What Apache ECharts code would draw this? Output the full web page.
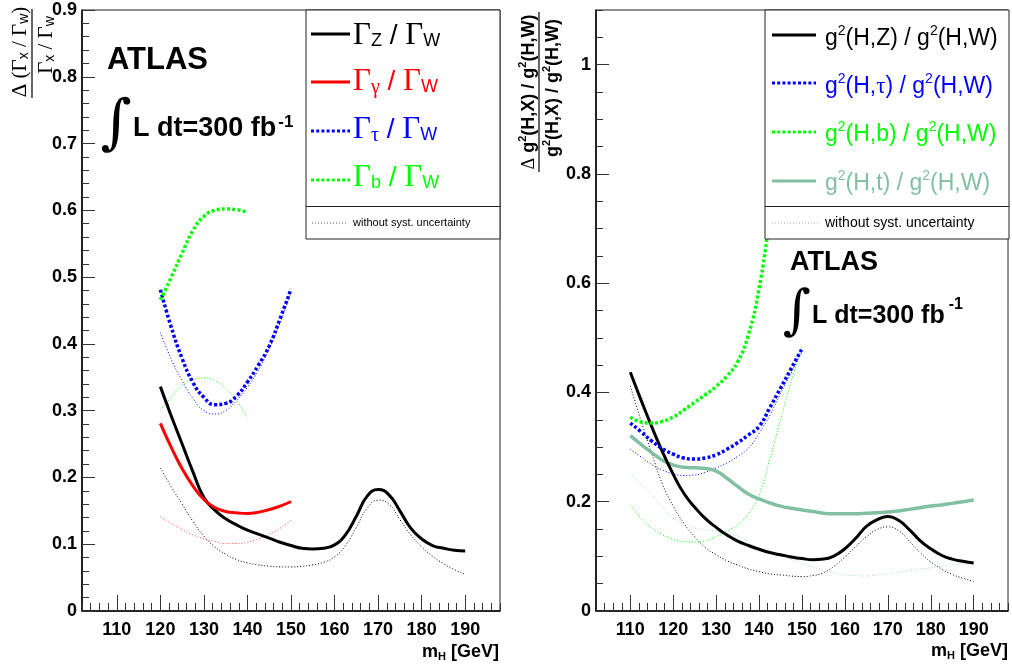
<!DOCTYPE html>
<html>
<head>
<meta charset="utf-8">
<script src="https://cdn.jsdelivr.net/npm/echarts@6/dist/echarts.min.js"></script>
<style>
html,body{margin:0;padding:0;background:#fff}
#main{width:1012px;height:668px}
</style>
</head>
<body>
<div id="main"></div>
<script>
// m_H grids (GeV)
var mh120to190 = [120,122.5,125,127.5,130,132.5,135,137.5,140,142.5,145,147.5,150,152.5,155,157.5,160,162.5,165,167.5,170,172.5,175,177.5,180,182.5,185,187.5,190];
var mh120to150 = [120,122.5,125,127.5,130,132.5,135,137.5,140,142.5,145,147.5,150];
var mh120to140 = [120,122.5,125,127.5,130,132.5,135,137.5,140];
var mh110to190 = [110,112.5,115,117.5,120,122.5,125,127.5,130,132.5,135,137.5,140,142.5,145,147.5,150,152.5,155,157.5,160,162.5,165,167.5,170,172.5,175,177.5,180,182.5,185,187.5,190];
var mh110to150 = [110,112.5,115,117.5,120,122.5,125,127.5,130,132.5,135,137.5,140,142.5,145,147.5,150];
var mh110to145 = [110,112.5,115,117.5,120,122.5,125,127.5,130,132.5,135,137.5,140,142.5,145];

// left pad : relative error on width ratios
var gamZ = [0.336,0.292,0.250,0.208,0.170,0.151,0.138,0.129,0.121,0.115,0.109,0.103,0.098,0.094,0.093,0.094,0.099,0.114,0.142,0.172,0.182,0.174,0.150,0.124,0.108,0.098,0.094,0.091,0.090];
var gamZNoSyst = [0.214,0.186,0.160,0.134,0.112,0.096,0.085,0.077,0.072,0.069,0.067,0.066,0.066,0.067,0.069,0.073,0.081,0.098,0.125,0.154,0.166,0.160,0.137,0.114,0.096,0.082,0.071,0.062,0.055];
var gamGam = [0.281,0.245,0.213,0.187,0.167,0.155,0.149,0.147,0.146,0.148,0.152,0.157,0.164];
var gamGamNoSyst = [0.141,0.131,0.122,0.114,0.108,0.104,0.101,0.101,0.103,0.108,0.115,0.124,0.136];
var gamTau = [0.481,0.425,0.378,0.342,0.320,0.309,0.311,0.322,0.343,0.368,0.397,0.438,0.482];
var gamTauNoSyst = [0.417,0.377,0.345,0.318,0.300,0.295,0.300,0.315,0.335,0.360,0.393,0.432,0.478];
var gamB = [0.466,0.500,0.536,0.570,0.591,0.600,0.602,0.601,0.597];
var gamBNoSyst = [0.301,0.320,0.338,0.347,0.349,0.345,0.333,0.315,0.290];

// right pad : relative error on coupling ratios
var gZ = [0.437,0.386,0.337,0.291,0.250,0.215,0.190,0.169,0.153,0.139,0.128,0.120,0.113,0.107,0.103,0.099,0.096,0.094,0.095,0.101,0.114,0.133,0.155,0.167,0.173,0.166,0.149,0.129,0.114,0.102,0.095,0.091,0.088];
var gZNoSyst = [0.412,0.348,0.288,0.232,0.192,0.160,0.136,0.116,0.103,0.092,0.084,0.077,0.072,0.068,0.066,0.064,0.063,0.065,0.070,0.082,0.099,0.118,0.136,0.149,0.154,0.147,0.128,0.107,0.090,0.077,0.067,0.060,0.054];
var gTau = [0.344,0.328,0.311,0.297,0.287,0.280,0.278,0.280,0.286,0.296,0.308,0.322,0.338,0.372,0.408,0.444,0.480];
var gTauNoSyst = [0.296,0.282,0.268,0.258,0.251,0.248,0.249,0.254,0.262,0.271,0.283,0.298,0.325,0.358,0.398,0.436,0.475];
var gB = [0.355,0.346,0.344,0.347,0.355,0.368,0.382,0.396,0.411,0.430,0.456,0.505,0.590,0.720,0.860];
var gBNoSyst = [0.195,0.170,0.152,0.140,0.131,0.127,0.126,0.129,0.136,0.146,0.158,0.178,0.212,0.278,0.350,0.420,0.485];
var gTop = [0.321,0.305,0.290,0.276,0.267,0.263,0.262,0.261,0.256,0.243,0.228,0.214,0.205,0.198,0.192,0.188,0.185,0.182,0.179,0.178,0.178,0.178,0.179,0.180,0.181,0.183,0.186,0.189,0.192,0.194,0.197,0.200,0.203];
var gTopNoSyst = [0.255,0.232,0.212,0.190,0.170,0.160,0.152,0.148,0.146,0.142,0.137,0.126,0.114,0.107,0.100,0.094,0.088,0.081,0.074,0.070,0.066,0.065,0.064,0.066,0.068,0.071,0.074,0.077,0.079,0.082,0.084,0.086,0.088];

var TEAL = '#82c0a2';
var SANS = 'Liberation Sans';
var SERIF = 'Liberation Serif';
var thickDot = [3, 2.2];
var thinDot = [1, 2];

function pairs(xs, ys) {
    return xs.map(function (x, i) { return [x, ys[i]]; });
}

function curve(xs, ys, pad, color, width, dash) {
    return {
        type: 'line',
        xAxisIndex: pad * 2,
        yAxisIndex: pad * 2,
        data: pairs(xs, ys),
        smooth: 0.5,
        symbol: 'none',
        silent: true,
        lineStyle: {color: color, width: width, type: dash || 'solid'},
        z: 3
    };
}

function xMain(pad) {
    return {
        gridIndex: pad, type: 'value', position: 'bottom',
        min: 102, max: 198, splitNumber: 10, minInterval: 10, maxInterval: 10,
        axisLine: {onZero: false, lineStyle: {color: '#000', width: 1.5}},
        axisTick: {inside: true, length: 16, lineStyle: {color: '#333'}},
        axisLabel: {showMinLabel: false, showMaxLabel: false, margin: 10, color: '#000',
            fontFamily: SANS, fontWeight: 'bold', fontSize: 18},
        splitLine: {show: false}
    };
}
function xMinor(pad) {
    return {
        gridIndex: pad, type: 'value', position: 'bottom', min: 102, max: 198, interval: 2,
        axisLine: {show: false},
        axisTick: {inside: true, length: 8, lineStyle: {color: '#333'}},
        axisLabel: {show: false}, splitLine: {show: false}
    };
}
function yMain(pad, max, step, showMax) {
    return {
        gridIndex: pad, type: 'value', position: 'left', min: 0, max: max, interval: step,
        axisLine: {onZero: false, lineStyle: {color: '#000', width: 1.5}},
        axisTick: {inside: true, length: 13, lineStyle: {color: '#333'}},
        axisLabel: {showMaxLabel: showMax, margin: 5, color: '#000',
            fontFamily: SANS, fontWeight: 'bold', fontSize: 18,
            formatter: function (v) { return v === 0 ? '0' : String(+v.toFixed(2)); }},
        splitLine: {show: false}
    };
}
function yMinor(pad, max, step) {
    return {
        gridIndex: pad, type: 'value', position: 'left', min: 0, max: max, interval: step,
        axisLine: {show: false},
        axisTick: {inside: true, length: 7, lineStyle: {color: '#333'}},
        axisLabel: {show: false}, splitLine: {show: false}
    };
}

function txt(x, y, text, rich, extra) {
    var el = {type: 'text', x: x, y: y, z: 60, style: {text: text, rich: rich, fill: '#000', verticalAlign: 'middle'}};
    for (var k in extra) { el.style[k] = extra[k]; }
    return el;
}
function seg(x1, y1, x2, y2, color, width, dash) {
    return {type: 'line', z: 60, shape: {x1: x1, y1: y1, x2: x2, y2: y2},
        style: {stroke: color, lineWidth: width, lineDash: dash || null}};
}
function box(x, y, w, h, div) {
    return [
        {type: 'rect', z: 55, shape: {x: x, y: y, width: w, height: h},
            style: {fill: '#fff', stroke: '#222', lineWidth: 1}},
        seg(x, div, x + w, div, '#222', 1)
    ];
}

var gammaRich = function (c) {
    return {
        g: {fontFamily: SERIF, fontSize: 31, fill: c},
        s: {fontFamily: SANS, fontSize: 18, fill: c, padding: [11, 0, 0, 0]},
        sg: {fontFamily: SERIF, fontSize: 20, fill: c, padding: [11, 0, 0, 0]},
        t: {fontFamily: SANS, fontSize: 28, fill: c}
    };
};
var couplingRich = function (c) {
    return {
        m: {fontFamily: SANS, fontSize: 23, fill: c},
        p: {fontFamily: SANS, fontSize: 14, fill: c, padding: [0, 0, 16, 0]},
        gr: {fontFamily: SERIF, fontSize: 23, fill: c}
    };
};

var graphics = [].concat(
    box(306, 10, 194, 229, 206.5),
    [
        seg(311, 34, 350, 34, '#000', 3),
        txt(353, 36, '{g|Γ}{s|Z}{t| / }{g|Γ}{s|W}', gammaRich('#000')),
        seg(311, 82, 350, 82, '#ff0000', 3),
        txt(353, 82, '{g|Γ}{sg|γ}{t| / }{g|Γ}{s|W}', gammaRich('#ff0000')),
        seg(311, 131, 350, 131, '#0000ff', 3, thickDot),
        txt(353, 130, '{g|Γ}{sg|τ}{t| / }{g|Γ}{s|W}', gammaRich('#0000ff')),
        seg(311, 180, 350, 180, '#00ff00', 3, thickDot),
        txt(353, 178, '{g|Γ}{s|b}{t| / }{g|Γ}{s|W}', gammaRich('#00ff00')),
        seg(312, 223, 348, 223, '#555', 1, thinDot),
        txt(353, 223, 'without syst. uncertainty', null, {fontFamily: SANS, fontSize: 11})
    ],
    box(765, 10, 244, 229, 206.5),
    [
        seg(772, 35, 816, 35, '#000', 3),
        txt(825, 39, '{m|g}{p|2}{m|(H,Z) / g}{p|2}{m|(H,W)}', couplingRich('#000')),
        seg(772, 83, 816, 83, '#0000ff', 3, thickDot),
        txt(825, 87, '{m|g}{p|2}{m|(H,}{gr|τ}{m|) / g}{p|2}{m|(H,W)}', couplingRich('#0000ff')),
        seg(772, 132, 816, 132, '#00ff00', 3, thickDot),
        txt(825, 135, '{m|g}{p|2}{m|(H,b) / g}{p|2}{m|(H,W)}', couplingRich('#00ff00')),
        seg(772, 181, 816, 181, TEAL, 3),
        txt(825, 184, '{m|g}{p|2}{m|(H,t) / g}{p|2}{m|(H,W)}', couplingRich(TEAL)),
        seg(772, 223, 818, 223, '#aaa', 1, thinDot),
        txt(825, 223, 'without syst. uncertainty', null, {fontFamily: SANS, fontSize: 14})
    ],
    [
        // ATLAS labels
        txt(107, 60, 'ATLAS', null, {fontFamily: SANS, fontWeight: 'bold', fontSize: 31}),
        txt(116, 126, '∫', null, {fontFamily: 'DejaVu Serif', fontSize: 60, align: 'center'}),
        txt(133, 129, '{m|L dt=300 fb}{p|-1}', {
            m: {fontFamily: SANS, fontWeight: 'bold', fontSize: 27},
            p: {fontFamily: SANS, fontWeight: 'bold', fontSize: 17, padding: [0, 0, 14, 2]}
        }),
        txt(790, 263, 'ATLAS', null, {fontFamily: SANS, fontWeight: 'bold', fontSize: 27}),
        txt(797, 314, '∫', null, {fontFamily: 'DejaVu Serif', fontSize: 54, align: 'center'}),
        txt(812, 316, '{m|L dt=300 fb}{p|-1}', {
            m: {fontFamily: SANS, fontWeight: 'bold', fontSize: 25},
            p: {fontFamily: SANS, fontWeight: 'bold', fontSize: 16, padding: [0, 0, 22, 4]}
        }),
        // x titles
        txt(499, 652, '{m|m}{h|H}{m| [GeV]}', {
            m: {fontFamily: SANS, fontWeight: 'bold', fontSize: 18},
            h: {fontFamily: SANS, fontWeight: 'bold', fontSize: 11, padding: [9, 0, 0, 0]}
        }, {align: 'right'}),
        txt(1008, 651, '{m|m}{h|H}{m| [GeV]}', {
            m: {fontFamily: SANS, fontWeight: 'bold', fontSize: 18},
            h: {fontFamily: SANS, fontWeight: 'bold', fontSize: 11, padding: [9, 0, 0, 0]}
        }, {align: 'right'})
    ]
);

// rotated y titles (fractions)
var yTitleL = {
    g: {fontFamily: SERIF, fontSize: 21},
    s: {fontFamily: SANS, fontSize: 14, padding: [8, 0, 0, 0]}
};
var yTitleR = {
    d: {fontFamily: SERIF, fontSize: 18},
    b: {fontFamily: SANS, fontWeight: 'bold', fontSize: 18},
    p: {fontFamily: SANS, fontWeight: 'bold', fontSize: 11, padding: [0, 0, 12, 0]}
};
function rot(x, y, text, rich) {
    var el = txt(x, y, text, rich, {align: 'center'});
    el.rotation = Math.PI / 2;
    return el;
}
graphics.push(
    rot(20, 52, '{g|Δ (Γ}{s|x}{g| / Γ}{s|w}{g|)}', yTitleL),
    seg(32, 9, 32, 98, '#000', 1.2),
    rot(46, 45, '{g|Γ}{s|x}{g| / Γ}{s|w}', yTitleL),
    rot(529, 92, '{d|Δ}{b| g}{p|2}{b|(H,X) / g}{p|2}{b|(H,W)}', yTitleR),
    seg(539, 12, 539, 172, '#000', 1.2),
    rot(553, 88, '{b|g}{p|2}{b|(H,X) / g}{p|2}{b|(H,W)}', yTitleR)
);

var chart = echarts.init(document.getElementById('main'));
chart.setOption({
    animation: false,
    backgroundColor: '#fff',
    grid: [
        {left: 82, right: 512, top: 10, bottom: 57, show: true, borderColor: '#222', borderWidth: 1},
        {left: 596, right: 4, top: 10, bottom: 57, show: true, borderColor: '#222', borderWidth: 1}
    ],
    xAxis: [xMain(0), xMinor(0), xMain(1), xMinor(1)],
    yAxis: [yMain(0, 0.9, 0.1, true), yMinor(0, 0.9, 0.02), yMain(1, 1.1, 0.2, false), yMinor(1, 1.1, 0.05)],
    series: [
        curve(mh120to190, gamZNoSyst, 0, '#000', 1, thinDot),
        curve(mh120to150, gamGamNoSyst, 0, '#ff4444', 1, thinDot),
        curve(mh120to150, gamTauNoSyst, 0, '#0000ff', 1, thinDot),
        curve(mh120to140, gamBNoSyst, 0, '#00ff00', 1, thinDot),
        curve(mh120to190, gamZ, 0, '#000', 3),
        curve(mh120to150, gamGam, 0, '#ff0000', 3),
        curve(mh120to150, gamTau, 0, '#0000ff', 3.5, thickDot),
        curve(mh120to140, gamB, 0, '#00ff00', 3.5, thickDot),

        curve(mh110to190, gZNoSyst, 1, '#000', 1, thinDot),
        curve(mh110to190, gTopNoSyst, 1, '#a8d8c0', 1, thinDot),
        curve(mh110to150, gTauNoSyst, 1, '#0000ff', 1, thinDot),
        curve(mh110to150, gBNoSyst, 1, '#00ff00', 1, thinDot),
        curve(mh110to190, gTop, 1, TEAL, 3.5),
        curve(mh110to190, gZ, 1, '#000', 3),
        curve(mh110to150, gTau, 1, '#0000ff', 3.5, thickDot),
        curve(mh110to145, gB, 1, '#00ff00', 3.5, thickDot)
    ],
    graphic: graphics
});
</script>
</body>
</html>
